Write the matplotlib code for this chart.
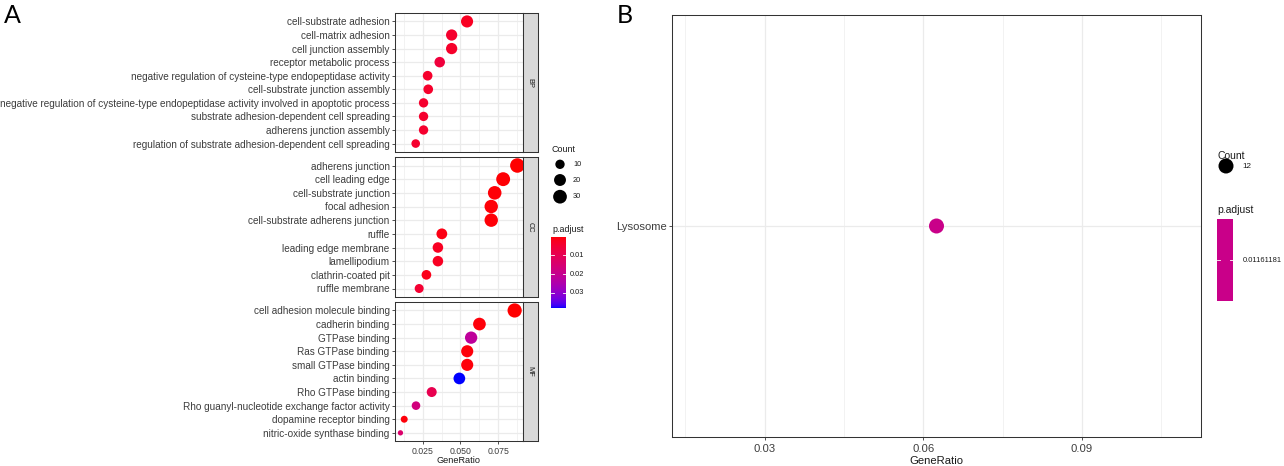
import numpy as np
import matplotlib
matplotlib.use("Agg")
import matplotlib.pyplot as plt
from matplotlib.colors import ListedColormap, Normalize
from matplotlib.ticker import FixedLocator, FormatStrFormatter

# ---------------- data ----------------
bp_terms = ["cell-substrate adhesion", "cell-matrix adhesion", "cell junction assembly",
            "receptor metabolic process",
            "negative regulation of cysteine-type endopeptidase activity",
            "cell-substrate junction assembly",
            "negative regulation of cysteine-type endopeptidase activity involved in apoptotic process",
            "substrate adhesion-dependent cell spreading", "adherens junction assembly",
            "regulation of substrate adhesion-dependent cell spreading"]
bp_ratio = [0.0544, 0.0442, 0.0442, 0.0363, 0.0283, 0.0287, 0.0256, 0.0256, 0.0256, 0.0204]
bp_count = [21, 17, 17, 14, 11, 11, 10, 10, 10, 8]
bp_padj = [0.0030, 0.0045, 0.0040, 0.0065, 0.0042, 0.0040, 0.0045, 0.0045, 0.0045, 0.0045]

cc_terms = ["adherens junction", "cell leading edge", "cell-substrate junction", "focal adhesion",
            "cell-substrate adherens junction", "ruffle", "leading edge membrane", "lamellipodium",
            "clathrin-coated pit", "ruffle membrane"]
cc_ratio = [0.0877, 0.0783, 0.0727, 0.0704, 0.0704, 0.0377, 0.0351, 0.0351, 0.0275, 0.0227]
cc_count = [35, 31, 29, 28, 28, 15, 14, 14, 11, 9]
cc_padj = [0.0001, 0.0004, 0.0006, 0.0006, 0.0006, 0.0015, 0.0030, 0.0030, 0.0020, 0.0050]

mf_terms = ["cell adhesion molecule binding", "cadherin binding", "GTPase binding",
            "Ras GTPase binding", "small GTPase binding", "actin binding", "Rho GTPase binding",
            "Rho guanyl-nucleotide exchange factor activity", "dopamine receptor binding",
            "nitric-oxide synthase binding"]
mf_ratio = [0.0859, 0.0626, 0.0571, 0.0545, 0.0545, 0.0493, 0.0310, 0.0206, 0.0128, 0.0103]
mf_count = [33, 24, 22, 21, 21, 19, 12, 8, 5, 4]
mf_padj = [0.0002, 0.0008, 0.0220, 0.0008, 0.0008, 0.0380, 0.0095, 0.0170, 0.0008, 0.0140]

facet_names = ["BP", "CC", "MF"]
a_xticks = [0.025, 0.050, 0.075]
a_size_breaks = [10, 20, 30]
a_padj_breaks = [0.01, 0.02, 0.03]

kegg_terms = ["Lysosome"]
kegg_ratio = [0.0625]
kegg_count = [12]
kegg_padj = [0.01161181]
b_xticks = [0.03, 0.06, 0.09]
b_xlim = (0.0125, 0.1125)

# ---------------- style ----------------
W, H, DPI = 1284, 466, 100
plt.rcParams["font.family"] = ["Liberation Sans", "DejaVu Sans"]
GRID = "#EBEBEB"
BORDER = "#333333"
AXTXT = "#3D3D3D"
TXT = "#1A1A1A"

# Lab-interpolated red -> blue gradient (like ggplot's scale_colour_gradient)
_M = np.array([[0.4124564, 0.3575761, 0.1804375],
               [0.2126729, 0.7151522, 0.0721750],
               [0.0193339, 0.1191920, 0.9503041]])
_WHITE = np.array([0.95047, 1.0, 1.08883])


def srgb2lab(c):
    c = np.asarray(c, float)
    lin = np.where(c <= 0.04045, c / 12.92, ((c + 0.055) / 1.055) ** 2.4)
    t = (_M @ lin) / _WHITE
    d = 6 / 29
    f = np.where(t > d ** 3, np.cbrt(t), t / (3 * d * d) + 4 / 29)
    return np.array([116 * f[1] - 16, 500 * (f[0] - f[1]), 200 * (f[1] - f[2])])


def lab2srgb(lab):
    L, a, b = lab
    fy = (L + 16) / 116
    f = np.array([fy + a / 500, fy, fy - b / 200])
    d = 6 / 29
    t = np.where(f > d, f ** 3, 3 * d * d * (f - 4 / 29))
    lin = np.linalg.inv(_M) @ (t * _WHITE)
    lin = np.clip(lin, 0, 1)
    c = np.where(lin <= 0.0031308, 12.92 * lin, 1.055 * lin ** (1 / 2.4) - 0.055)
    return np.clip(c, 0, 1)


lab_lo, lab_hi = srgb2lab([1, 0, 0]), srgb2lab([0, 0, 1])
cmap = ListedColormap([lab2srgb(lab_lo + (lab_hi - lab_lo) * t) for t in np.linspace(0, 1, 256)])


def rect(l, t, r, b):
    return [l / W, 1 - b / H, (r - l) / W, (b - t) / H]


def pt2(d_px):
    return (d_px * 72.0 / DPI) ** 2


all_counts = bp_count + cc_count + mf_count
cmin, cmax = min(all_counts), max(all_counts)
DMIN, DMAX = 5.3, 14.5


def size_of(c):
    r = (np.asarray(c, float) - cmin) / (cmax - cmin)
    return pt2(DMIN + (DMAX - DMIN) * np.sqrt(r))


all_p = bp_padj + cc_padj + mf_padj
norm = Normalize(vmin=min(all_p), vmax=max(all_p))

all_r = bp_ratio + cc_ratio + mf_ratio
span = max(all_r) - min(all_r)
a_xlim = (min(all_r) - 0.05 * span, max(all_r) + 0.05 * span)

fig = plt.figure(figsize=(W / DPI, H / DPI), dpi=DPI)


def style_panel(ax, xlim, ylim, xt, xminor, ylabsize, xlabsize, xpad, show_x):
    ax.set_xlim(*xlim)
    ax.set_ylim(*ylim)
    ax.xaxis.set_major_locator(FixedLocator(xt))
    ax.xaxis.set_minor_locator(FixedLocator(xminor))
    ax.grid(True, which="major", color=GRID, lw=0.9, zorder=0)
    ax.grid(True, which="minor", axis="x", color=GRID, lw=0.45, zorder=0)
    ax.set_axisbelow(True)
    for s in ax.spines.values():
        s.set_color(BORDER)
        s.set_linewidth(0.75)
    ax.tick_params(axis="y", which="major", length=2.4, width=0.6, color=BORDER,
                   labelsize=ylabsize, labelcolor=AXTXT, pad=1.2)
    ax.tick_params(axis="x", which="minor", length=0)
    if show_x:
        ax.tick_params(axis="x", which="major", length=2.4, width=0.6, color=BORDER,
                       labelsize=xlabsize, labelcolor=AXTXT, pad=xpad)
    else:
        ax.tick_params(axis="x", which="major", length=0, labelbottom=False)


# ---------------- panel A ----------------
facets = [(bp_terms, bp_ratio, bp_count, bp_padj, 13.3, 151.7),
          (cc_terms, cc_ratio, cc_count, cc_padj, 157.3, 296.7),
          (mf_terms, mf_ratio, mf_count, mf_padj, 302.3, 441.0)]
AL, AR, SR = 394.6, 523.2, 537.5
for i, (terms, ratio, count, padj, top, bot) in enumerate(facets):
    ax = fig.add_axes(rect(AL, top, AR, bot))
    n = len(terms)
    ys = np.arange(n)[::-1]
    ax.scatter(ratio, ys, s=size_of(count), c=padj, cmap=cmap, norm=norm,
               edgecolors="none", zorder=3)
    ax.set_yticks(ys)
    ax.set_yticklabels(terms)
    style_panel(ax, a_xlim, (-0.6, n - 1 + 0.6), a_xticks,
                [0.0125, 0.0375, 0.0625, 0.0875], 7.2, 6.3, 1.6, i == 2)
    if i == 2:
        ax.xaxis.set_major_formatter(FormatStrFormatter("%.3f"))
    sax = fig.add_axes(rect(AR, top, SR, bot))
    sax.set_facecolor("#D9D9D9")
    sax.set_xticks([])
    sax.set_yticks([])
    for s in sax.spines.values():
        s.set_color(BORDER)
        s.set_linewidth(0.75)
    sax.text(0.5, 0.5, facet_names[i], rotation=270, ha="center", va="center",
             fontsize=5.3, color=TXT, transform=sax.transAxes)

# ---------------- panel B ----------------
bx = fig.add_axes(rect(672, 15, 1201, 437))
b_color = cmap(0.5)  # single value -> middle of the gradient
bx.scatter(kegg_ratio, [1], s=pt2(15), color=b_color, edgecolors="none", zorder=3)
bx.set_yticks([1])
bx.set_yticklabels(kegg_terms)
style_panel(bx, b_xlim, (0.4, 1.6), b_xticks, [0.015, 0.045, 0.075, 0.105], 8.1, 8.1, 3.0, True)
bx.xaxis.set_major_formatter(FormatStrFormatter("%.2f"))

# ---------------- overlay for text / legends ----------------
ov = fig.add_axes([0, 0, 1, 1])
ov.set_xlim(0, W)
ov.set_ylim(H, 0)
ov.axis("off")

ov.text(4, 4, "A", fontsize=18, family=["Lato", "DejaVu Sans"], ha="left", va="top", color="black")
ov.text(617, 4, "B", fontsize=18, family=["Lato", "DejaVu Sans"], ha="left", va="top", color="black")

ov.text((AL + AR) / 2, 460.5, "GeneRatio", fontsize=6.6, ha="center", va="center", color=TXT)
ov.text(936.5, 461.5, "GeneRatio", fontsize=8.1, ha="center", va="center", color=TXT)

# legend A: Count
ov.text(552, 149, "Count", fontsize=6.4, ha="left", va="center", color=TXT)
for yy, c in zip([164.3, 180.0, 196.7], a_size_breaks):
    ov.scatter([560], [yy], s=size_of(c), color="black", edgecolors="none")
    ov.text(573, yy, str(c), fontsize=5.3, ha="left", va="center", color=TXT)
ov.text(552, 229, "p.adjust", fontsize=6.4, ha="left", va="center", color=TXT)

# legend A: colour bar
cax = fig.add_axes(rect(551, 236.7, 566, 308))
grad = np.linspace(norm.vmin, norm.vmax, 256).reshape(-1, 1)
cax.imshow(grad, cmap=cmap, norm=norm, aspect="auto",
           extent=(0, 1, norm.vmax, norm.vmin), interpolation="bilinear")
cax.set_xlim(0, 1)
cax.set_ylim(norm.vmax, norm.vmin)
cax.axis("off")
for tv in a_padj_breaks:
    cax.plot([0, 0.2], [tv, tv], color="white", lw=0.6)
    cax.plot([0.8, 1], [tv, tv], color="white", lw=0.6)
    yy = 236.7 + (tv - norm.vmin) / (norm.vmax - norm.vmin) * (308 - 236.7)
    ov.text(570, yy, f"{tv:g}", fontsize=5.3, ha="left", va="center", color=TXT)

# legend B
ov.text(1217, 156, "Count", fontsize=7.5, ha="left", va="center", color=TXT)
ov.scatter([1226], [166], s=pt2(15), color="black", edgecolors="none")
ov.text(1242, 166, str(kegg_count[0]), fontsize=5.9, ha="left", va="center", color=TXT)
ov.text(1217, 210, "p.adjust", fontsize=7.5, ha="left", va="center", color=TXT)
bcax = fig.add_axes(rect(1216.7, 219, 1233.3, 301))
bcax.set_facecolor(b_color)
bcax.set_xticks([])
bcax.set_yticks([])
bcax.set_xlim(0, 1)
bcax.set_ylim(1, 0)
for s in bcax.spines.values():
    s.set_visible(False)
bcax.plot([0, 0.2], [0.5, 0.5], color="white", lw=0.6)
bcax.plot([0.8, 1], [0.5, 0.5], color="white", lw=0.6)
ov.text(1243, 260, f"{kegg_padj[0]:.8f}", fontsize=5.4, ha="left", va="center", color=TXT)

fig.savefig("out.png", dpi=DPI)
